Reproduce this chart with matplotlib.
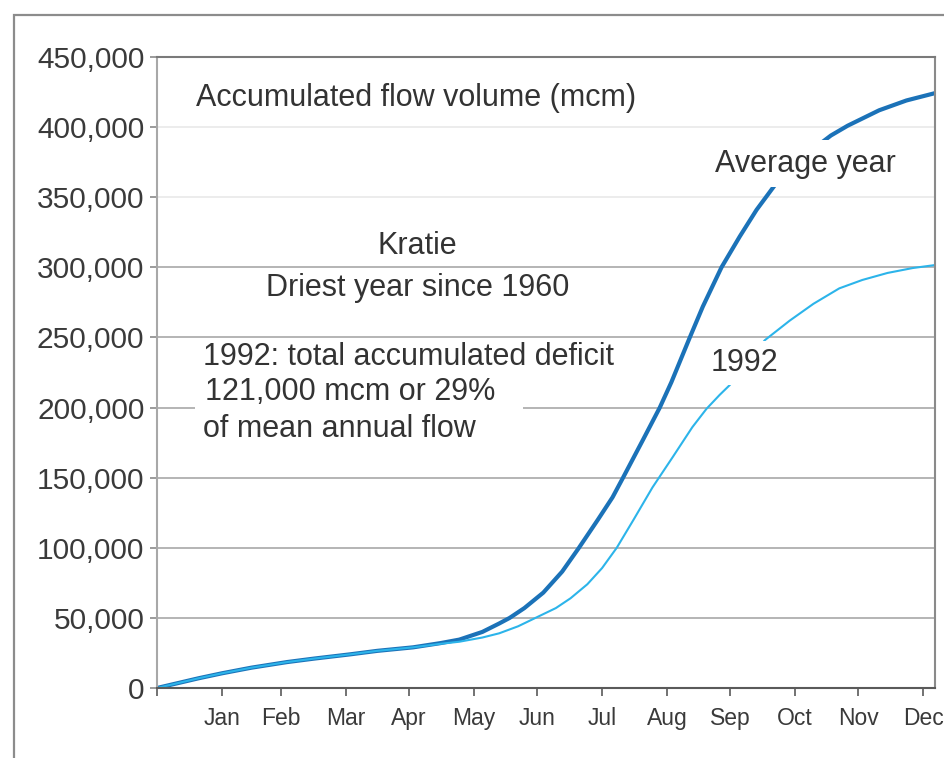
import numpy as np
import matplotlib.pyplot as plt
import matplotlib.ticker as mticker
from matplotlib.patches import Rectangle

plt.rcParams['font.family'] = ['Liberation Sans', 'DejaVu Sans']

# month-end day numbers and labels
month_ends = [0, 31, 59, 90, 120, 151, 181, 212, 243, 273, 304, 334, 365]
month_labels = ['', 'Jan', 'Feb', 'Mar', 'Apr', 'May', 'Jun', 'Jul', 'Aug',
                'Sep', 'Oct', 'Nov', 'Dec']

# accumulated flow volume (mcm)
avg_days = [0, 10, 20, 31, 45, 62, 75, 92, 105, 122, 135, 144, 155, 163, 168,
            175, 184, 193, 201, 210, 217, 222, 231.5, 239.5, 245, 253.8, 260,
            268.9, 277.6, 285.6, 295, 304, 314, 321, 329, 344, 357, 370]
avg_vals = [0, 3500, 7000, 10500, 14500, 18500, 21000, 24000, 26500, 29000,
            32000, 34500, 40000, 46000, 50000, 57000, 68000, 83000, 100000,
            120000, 136000, 150000, 177000, 200000, 218000, 250000, 272000,
            300000, 322000, 341000, 360000, 374000, 386000, 394000, 401000,
            412000, 419000, 424000]

y92_days = [0, 10, 20, 31, 45, 62, 75, 92, 105, 122, 135, 144, 155, 163, 172,
            181, 190, 197, 205, 212, 219, 227, 236, 245.8, 255, 261.7, 268,
            272.8, 281, 289.5, 301.4, 312.7, 325, 336, 348, 360, 370]
y92_vals = [0, 3500, 7000, 10500, 14500, 18500, 21000, 24000, 26500, 29000,
            31500, 33000, 36000, 39000, 44000, 50500, 57000, 64000, 74000,
            85500, 100000, 120000, 143000, 165000, 186000, 199000, 209000,
            216000, 232000, 248000, 262000, 274000, 285000, 291000, 296000,
            299500, 301500]

yticks = list(range(0, 450001, 50000))

fig = plt.figure(figsize=(9.44, 7.58), dpi=100)
ax = fig.add_axes([157 / 944, 70 / 758, 778 / 944, 631 / 758])

# outer frame of the figure
fig.patches.append(Rectangle((14 / 944, -0.1), 1.2, 1.1 - 15 / 758,
                             transform=fig.transFigure, fill=False,
                             edgecolor='#8c8c8c', lw=1.6))

ax.plot(avg_days, avg_vals, color='#1b72b8', lw=3.0, zorder=2,
        solid_joinstyle='round')
ax.plot(y92_days, y92_vals, color='#2cb4ea', lw=1.5, zorder=2.1,
        solid_joinstyle='round')

ax.set_xlim(0, 370.6)
ax.set_ylim(0, 450000)
ax.set_yticks(yticks)
ax.yaxis.set_major_formatter(mticker.StrMethodFormatter('{x:,.0f}'))
ax.set_xticks(month_ends)
ax.set_xticklabels(month_labels)

ax.grid(axis='y', color='#b4b4b4', lw=1.4)
ax.set_axisbelow(True)
glines = ax.yaxis.get_gridlines()
glines[7].set_color('#ececec')
glines[8].set_color('#ececec')
glines[9].set_visible(False)

for side, c in [('left', '#a8a8a8'), ('bottom', '#5a5a5a'),
                ('top', '#7a7a7a'), ('right', '#8a8a8a')]:
    ax.spines[side].set_color(c)
    ax.spines[side].set_linewidth(1.5)

ax.tick_params(axis='y', direction='out', length=5, width=1.2, color='#8a8a8a',
               labelsize=21.5, labelcolor='#3a3a3a', pad=4)
ax.tick_params(axis='x', direction='out', length=6, width=1.2, color='#5a5a5a',
               labelsize=16.5, labelcolor='#3a3a3a', pad=8)

# white patch breaking the 200,000 gridline behind the deficit note
ax.add_patch(Rectangle((0.049, 0.425), 0.421, 0.038, transform=ax.transAxes,
                       facecolor='white', edgecolor='none', zorder=1.5))

tc = '#333333'
fs = 22
ax.text(18.4, 421000, 'Accumulated flow volume (mcm)', fontsize=fs, color=tc,
        ha='left', va='center')
ax.text(124, 315000, 'Kratie', fontsize=fs, color=tc, ha='center', va='center')
ax.text(124, 285000, 'Driest year since 1960', fontsize=fs, color=tc,
        ha='center', va='center')
ax.text(21.8, 236000, '1992: total accumulated deficit', fontsize=fs, color=tc,
        ha='left', va='center', zorder=3)
ax.text(22.8, 211000, '121,000 mcm or 29%', fontsize=fs, color=tc,
        ha='left', va='center', zorder=3)
ax.text(21.8, 185000, 'of mean annual flow', fontsize=fs, color=tc,
        ha='left', va='center', zorder=3)
ax.text(309, 374000, 'Average year', fontsize=fs, color=tc, ha='center',
        va='center', zorder=3,
        bbox=dict(facecolor='white', edgecolor='none', pad=6))
ax.text(280, 232000, '1992', fontsize=fs, color=tc, ha='center', va='center',
        zorder=3, bbox=dict(facecolor='white', edgecolor='none', pad=5))

fig.savefig('out.png', dpi=100)
